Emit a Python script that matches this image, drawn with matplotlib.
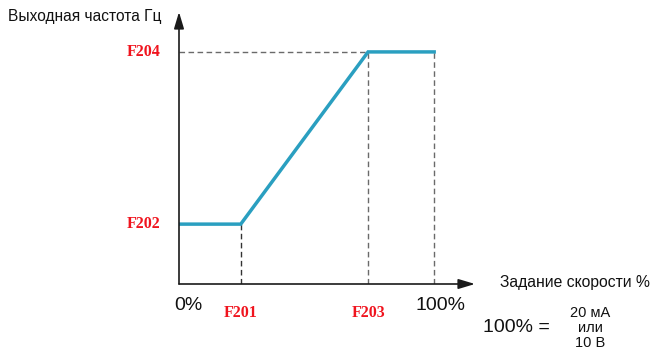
import matplotlib
matplotlib.use('Agg')
import matplotlib.pyplot as plt

plt.rcParams['font.family'] = ['Liberation Sans', 'DejaVu Sans']

# speed setpoint, % of full scale
x_pts = [0, 24.2, 74.1, 100]
# output frequency (arbitrary units, F204 = 50)
y_pts = [12.9, 12.9, 50, 50]

x_names = ['F201', 'F203']
x_name_pos = [24.2, 74.1]
y_names = ['F202', 'F204']
y_name_pos = [12.9, 50]
x_ends = ['0%', '100%']
x_end_pos = [3.5, 102.4]

x_max = 116
y_max = 58.6

red = '#f0141e'
teal = '#2a9fc0'
dash_col = '#6a6a6a'

fig = plt.figure(figsize=(6.53, 3.49), dpi=100)
ax = fig.add_axes([179 / 653, 65 / 349, 296 / 653, 272 / 349])
ax.set_xlim(0, x_max)
ax.set_ylim(0, y_max)
ax.axis('off')

# axes with arrows
arrow = dict(arrowstyle='-|>,head_length=1.0,head_width=0.3', color='#1a1a1a', lw=1.2,
             shrinkA=0, shrinkB=0)
ax.annotate('', xy=(x_max, 0), xytext=(0, 0), arrowprops=arrow, annotation_clip=False)
ax.annotate('', xy=(0, y_max), xytext=(0, 0), arrowprops=arrow, annotation_clip=False)

# guide lines
ax.plot([0, x_pts[2]], [y_pts[2], y_pts[2]], ls=(0, (4, 2.5)), color=dash_col, lw=1)
ax.plot([x_pts[1], x_pts[1]], [0, y_pts[1]], ls=(0, (4, 2.5)), color='#333333', lw=1)
ax.plot([x_pts[2], x_pts[2]], [0, y_pts[2]], ls=(0, (4, 2.5)), color=dash_col, lw=1)
ax.plot([x_pts[3], x_pts[3]], [0, y_pts[3]], ls=(0, (4, 2.5)), color=dash_col, lw=1)

# characteristic
ax.plot(x_pts, y_pts, color=teal, lw=2.5, solid_joinstyle='miter')

for name, yv in zip(y_names, y_name_pos):
    ax.text(-7.3, yv, name, color=red, fontsize=11.5, fontweight='bold',
            family='Liberation Serif', ha='right', va='center')
for name, xv in zip(x_names, x_name_pos):
    ax.text(xv, -6.3, name, color=red, fontsize=11.5, fontweight='bold',
            family='Liberation Serif', ha='center', va='center')
for name, xv in zip(x_ends, x_end_pos):
    ax.text(xv, -4.6, name, fontsize=14, ha='center', va='center', color='#111111')

fig.text(8 / 653, 1 - 17 / 349, 'Выходная частота Гц', fontsize=11.2, ha='left', va='center',
         color='#111111')
fig.text(500 / 653, 1 - 282 / 349, 'Задание скорости %', fontsize=11.3, ha='left', va='center',
         color='#111111')
fig.text(483 / 653, 1 - 327 / 349, '100% =', fontsize=14, ha='left', va='center',
         color='#111111')
fig.text(590 / 653, 1 - 313 / 349, '20 мА', fontsize=10.5, ha='center', va='center',
         color='#111111')
fig.text(590 / 653, 1 - 328 / 349, 'или', fontsize=10.5, ha='center', va='center',
         color='#111111')
fig.text(590 / 653, 1 - 343 / 349, '10 В', fontsize=10.5, ha='center', va='center',
         color='#111111')

fig.savefig('out.png', dpi=100)
